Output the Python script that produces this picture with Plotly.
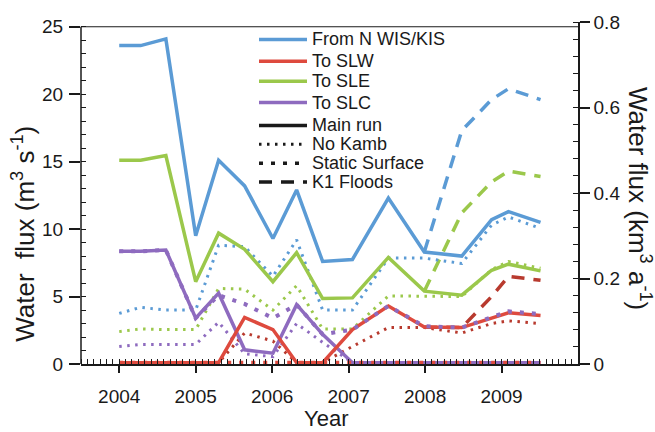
import plotly.graph_objects as go

# Sampling times (decimal years) of the model output
years = [2004.0, 2004.28, 2004.61, 2005.0, 2005.3, 2005.64, 2006.01, 2006.32,
         2006.66, 2007.05, 2007.52, 2007.99, 2008.48, 2008.87, 2009.09, 2009.51]
years_k1 = [2007.99, 2008.48, 2008.87, 2009.09, 2009.51]

# Main run (m^3 s^-1)
main_wis = [23.6, 23.6, 24.1, 9.5, 15.1, 13.2, 9.3, 12.9, 7.6, 7.75, 12.3, 8.3, 8.0, 10.7, 11.3, 10.5]
main_slw = [0.1, 0.1, 0.1, 0.1, 0.1, 3.45, 2.55, 0.1, 0.1, 2.55, 4.3, 2.75, 2.7, 3.4, 3.8, 3.6]
main_sle = [15.1, 15.1, 15.45, 6.1, 9.7, 8.5, 6.1, 8.25, 4.85, 4.9, 7.9, 5.4, 5.1, 6.95, 7.4, 6.9]
main_slc = [8.35, 8.35, 8.45, 3.4, 5.25, 1.05, 0.8, 4.4, 2.2, 0.1, 0.1, 0.1, 0.1, 0.1, 0.1, 0.1]

# No Kamb run
nokamb_wis = [3.75, 4.2, 4.0, 4.0, 8.8, 8.7, 6.5, 9.2, 4.0, 4.0, 7.85, 7.85, 7.45, 10.3, 10.9, 10.05]
nokamb_slw = [0.1, 0.1, 0.1, 0.1, 0.1, 2.3, 1.7, 0.1, 0.1, 1.3, 2.7, 2.7, 2.3, 3.0, 3.2, 3.0]
nokamb_sle = [2.4, 2.6, 2.55, 2.55, 5.6, 5.55, 4.0, 5.8, 2.6, 2.6, 5.05, 5.05, 5.0, 7.0, 7.6, 7.1]
nokamb_slc = [1.3, 1.45, 1.45, 1.45, 3.1, 0.75, 0.55, 3.0, 1.6, 0.1, 0.1, 0.1, 0.1, 0.1, 0.1, 0.1]

# Static Surface run
static_slw = [0.1, 0.1, 0.1, 0.1, 0.1, 0.1, 0.1, 0.1, 0.1, 0.1, 0.1, 0.1, 0.1, 0.1, 0.1, 0.1]
static_slc = [8.35, 8.35, 8.45, 3.4, 5.1, 4.45, 3.4, 4.4, 2.2, 2.55, 4.3, 2.8, 2.7, 3.45, 3.9, 3.7]

# K1 Floods run
k1_wis = [8.3, 17.3, 19.6, 20.4, 19.6]
k1_sle = [5.4, 11.2, 13.5, 14.3, 13.9]
k1_slw = [2.75, 2.7, 5.0, 6.5, 6.2]

year_ticks = [2004, 2005, 2006, 2007, 2008, 2009]
flux_ticks = [0, 5, 10, 15, 20, 25]
km3_ticks = [0, 0.2, 0.4, 0.6, 0.8]

series_names = ["From N WIS/KIS", "To SLW", "To SLE", "To SLC"]
run_names = ["Main run", "No Kamb", "Static Surface", "K1 Floods"]

BLUE = "#5B9BD5"
RED = "#DE4A3E"
DARKRED = "#B83A2E"
GREEN = "#9BC84B"
PURPLE = "#8E6BBF"
INK = "#1a1a1a"
FONT = "Liberation Sans, Arial, sans-serif"

DOT = "2.5px,5.5px"
SQUARE = "4px,8px"
LONG = "13px,9px"

# Seconds per year: converts m^3 s^-1 to km^3 a^-1 on the right axis
SEC_PER_YEAR = 365.25 * 86400
Y_TOP = 0.8 * 1e9 / SEC_PER_YEAR

W, H = 655, 432
L, R, T, B = 81, 77, 20, 68


def px_x(p):
    return (p - L) / (W - L - R)


def px_y(p):
    return (H - B - p) / (H - T - B)


fig = go.Figure()


def add_line(x, y, color, dash=None, width=3.5):
    fig.add_trace(go.Scatter(
        x=x, y=y, mode="lines", showlegend=False, hoverinfo="skip",
        line=dict(color=color, width=width, dash=dash),
    ))


# K1 Floods (long dashes)
add_line(years_k1, k1_wis, BLUE, LONG)
add_line(years_k1, k1_sle, GREEN, LONG)
add_line(years_k1, k1_slw, DARKRED, LONG)

# No Kamb (dots)
add_line(years, nokamb_wis, BLUE, DOT, 3)
add_line(years, nokamb_sle, GREEN, DOT, 3)
add_line(years, nokamb_slc, PURPLE, DOT, 3)
add_line(years, nokamb_slw, DARKRED, DOT, 3)

# Main run (solid)
add_line(years, main_slc, PURPLE)
add_line(years, main_slw, RED)
add_line(years, main_sle, GREEN)
add_line(years, main_wis, BLUE)

# Static Surface (short square dashes)
add_line(years, static_slc, PURPLE, SQUARE, 4)
add_line(years, static_slw, RED, SQUARE, 4)

# Right axis in km^3 a^-1 (same scale, converted units)
fig.add_trace(go.Scatter(
    x=years, y=[v * SEC_PER_YEAR / 1e9 for v in main_wis], yaxis="y2",
    mode="lines", line=dict(width=0, color="rgba(0,0,0,0)"),
    showlegend=False, hoverinfo="skip",
))

shapes = [
    # left axis line and top frame
    dict(type="line", xref="paper", yref="y", x0=0, x1=0, y0=0, y1=25,
         line=dict(color=INK, width=1.5)),
    dict(type="line", xref="paper", yref="y", x0=0, x1=1, y0=25, y1=25,
         line=dict(color=INK, width=1.2)),
]
annotations = []

# Legend drawn inside the plot area
legend_rows = [37.5, 59.5, 79.5, 101, 124, 143, 162, 181]
legend_items = (
    [(n, c, None) for n, c in zip(series_names, [BLUE, RED, GREEN, PURPLE])]
    + [(n, INK, d) for n, d in zip(run_names, [None, DOT, SQUARE, LONG])]
)
for (name, color, dash), row in zip(legend_items, legend_rows):
    shapes.append(dict(
        type="line", xref="paper", yref="paper",
        x0=px_x(259), x1=px_x(307), y0=px_y(row), y1=px_y(row),
        line=dict(color=color, width=3.5 if dash != DOT else 3, dash=dash),
    ))
    annotations.append(dict(
        text=name, xref="paper", yref="paper", x=px_x(310), y=px_y(row),
        xanchor="left", yanchor="middle", showarrow=False,
        font=dict(family=FONT, size=18, color=INK),
    ))

# Axis titles
annotations += [
    dict(text="Water  flux (m<sup>3</sup> s<sup>-1</sup>)", textangle=-90,
         xref="paper", yref="paper", x=px_x(24), y=px_y(233),
         xanchor="center", yanchor="middle", showarrow=False,
         font=dict(family=FONT, size=26, color=INK)),
    dict(text="Water flux (km<sup>3</sup> a<sup>-1</sup>)", textangle=90,
         xref="paper", yref="paper", x=px_x(639), y=px_y(197),
         xanchor="center", yanchor="middle", showarrow=False,
         font=dict(family=FONT, size=26, color=INK)),
    dict(text="Year", xref="paper", yref="paper", x=px_x(326), y=px_y(419),
         xanchor="center", yanchor="middle", showarrow=False,
         font=dict(family=FONT, size=22, color=INK)),
]

fig.update_layout(
    width=W, height=H,
    margin=dict(l=L, r=R, t=T, b=B, pad=0),
    paper_bgcolor="white", plot_bgcolor="white",
    showlegend=False,
    font=dict(family=FONT, size=19, color=INK),
    xaxis=dict(
        range=[2003.5, 2010], tickmode="array", tickvals=year_ticks,
        showgrid=False, zeroline=False,
        showline=True, linecolor=INK, linewidth=1.5,
        ticks="outside", ticklen=7, tickwidth=1.5, tickcolor=INK,
        ticklabelstandoff=7,
        minor=dict(dtick=1 / 12, tick0=2004, ticks="inside", ticklen=5,
                   tickwidth=1.2, tickcolor=INK, showgrid=False),
    ),
    yaxis=dict(
        range=[0, Y_TOP], tickmode="array", tickvals=flux_ticks,
        showgrid=False, zeroline=False, showline=False,
        ticks="outside", ticklen=11, tickwidth=1.5, tickcolor=INK,
        ticklabelstandoff=2,
        minor=dict(dtick=1, tick0=0, ticks="inside", ticklen=5,
                   tickwidth=1.2, tickcolor=INK, showgrid=False),
    ),
    yaxis2=dict(
        range=[0, 0.8], overlaying="y", side="right", anchor="x",
        tickmode="array", tickvals=km3_ticks,
        showgrid=False, zeroline=False,
        showline=True, linecolor=INK, linewidth=1.5,
        ticks="outside", ticklen=10, tickwidth=1.5, tickcolor=INK,
        ticklabelstandoff=0,
        minor=dict(dtick=0.04, tick0=0, ticks="inside", ticklen=5,
                   tickwidth=1.2, tickcolor=INK, showgrid=False),
    ),
    shapes=shapes,
    annotations=annotations,
)

fig.write_html("out.html")
